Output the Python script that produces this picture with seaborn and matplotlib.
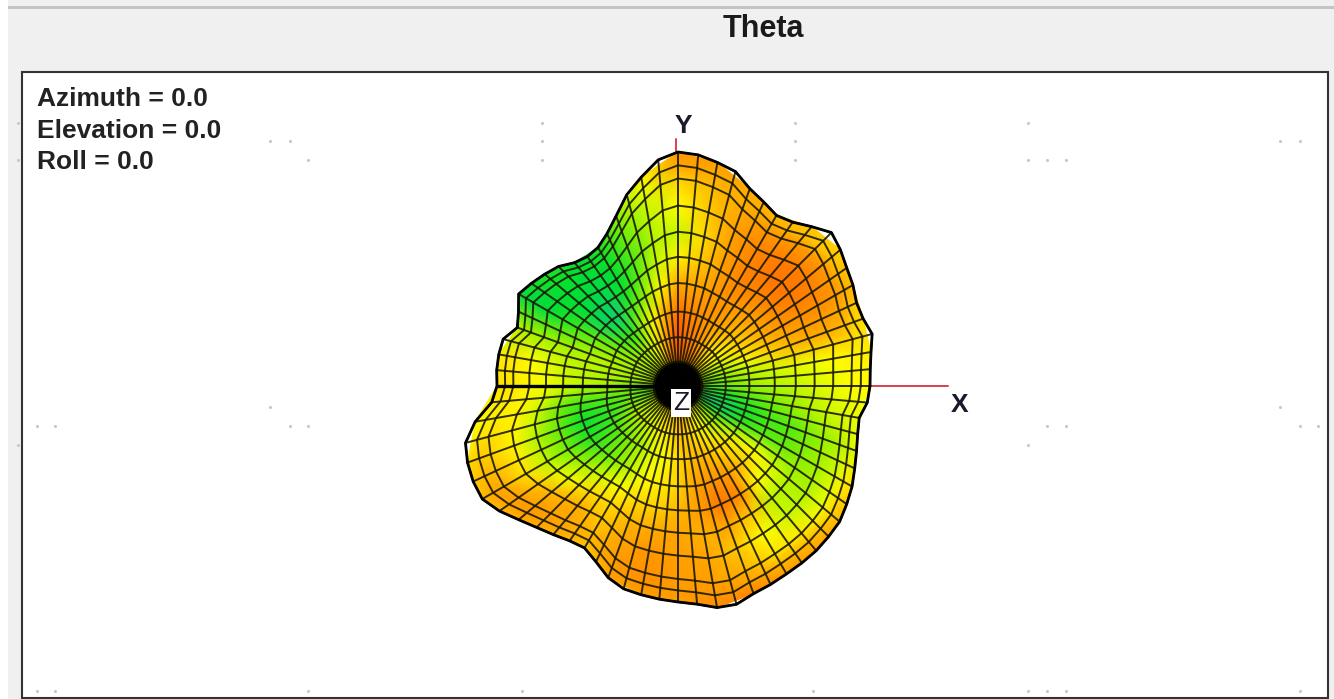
import numpy as np
import pandas as pd
import matplotlib
matplotlib.use("Agg")
import matplotlib.pyplot as plt
from matplotlib.patches import Rectangle
import seaborn as sns

sns.set_theme(style="white")
plt.rcParams['font.family'] = ['Liberation Sans', 'DejaVu Sans']

# outline radius of the pattern, every 5 degrees counter clockwise from +X
outline = [192, 193, 196, 201, 197, 197, 202, 206, 212, 217, 208, 200,
           197, 203, 210, 222, 227, 232, 234, 227, 212, 198, 181, 168,
           160, 158, 161, 169, 174, 179, 184, 176, 171, 181, 182, 182,
           181, 187, 206, 220, 224, 226, 226, 218, 208, 200, 194, 189,
           187, 194, 204, 210, 212, 214, 216, 219, 225, 226, 221, 219,
           217, 216, 215, 213, 211, 206, 201, 195, 190, 186, 184, 190]

# rings of the wire mesh, centre to edge
ring_frac = [0, .06, .12, .24, .36, .49, .60, .70, .80, .90, .95, 1]
ring_follow = [0, 0, .05, .1, .2, .3, .45, .6, .75, .9, .95, 1]

# colour level of each spoke (every 10 degrees), one value per ring
levels = [
    [25, 25, 22, 28, 34, 38, 41, 44, 47, 50, 50, 50],
    [25, 25, 25, 32, 38, 43, 46, 48, 50, 52, 52, 54],
    [35, 35, 32, 38, 48, 60, 66, 70, 70, 66, 60, 58],
    [50, 50, 42, 46, 58, 70, 78, 82, 82, 78, 70, 65],
    [66, 66, 56, 50, 62, 74, 84, 88, 86, 76, 62, 60],
    [76, 76, 66, 58, 68, 76, 84, 88, 86, 76, 64, 62],
    [85, 85, 80, 72, 76, 80, 84, 84, 84, 78, 70, 66],
    [90, 90, 88, 84, 80, 76, 74, 74, 74, 70, 68, 70],
    [92, 92, 92, 90, 84, 72, 62, 58, 62, 65, 70, 74],
    [95, 95, 97, 98, 90, 70, 52, 42, 50, 60, 72, 78],
    [92, 92, 90, 85, 72, 52, 42, 38, 40, 44, 48, 52],
    [80, 80, 75, 62, 52, 35, 28, 26, 28, 30, 32, 34],
    [55, 55, 52, 46, 38, 24, 18, 16, 17, 18, 19, 20],
    [45, 45, 45, 38, 22, 8, 10, 13, 15, 16, 17, 18],
    [40, 40, 40, 34, 24, 10, 14, 16, 17, 18, 19, 20],
    [38, 38, 38, 36, 32, 28, 24, 20, 16, 14, 15, 16],
    [35, 35, 36, 36, 38, 38, 36, 36, 36, 36, 38, 40],
    [32, 32, 34, 36, 38, 40, 42, 46, 50, 54, 54, 54],
    [22, 22, 24, 30, 36, 40, 44, 48, 52, 55, 56, 56],
    [25, 25, 25, 28, 26, 24, 30, 42, 52, 54, 52, 50],
    [36, 36, 32, 30, 22, 18, 28, 38, 52, 60, 62, 58],
    [42, 42, 38, 36, 24, 20, 30, 40, 56, 70, 72, 65],
    [48, 48, 42, 40, 28, 26, 36, 48, 66, 76, 76, 68],
    [52, 52, 46, 42, 32, 32, 44, 58, 70, 72, 72, 68],
    [58, 58, 50, 46, 38, 40, 50, 58, 62, 66, 66, 62],
    [65, 65, 58, 52, 46, 50, 58, 66, 72, 76, 76, 72],
    [72, 72, 62, 56, 50, 54, 60, 70, 78, 80, 80, 74],
    [78, 78, 70, 64, 58, 60, 66, 72, 74, 75, 76, 74],
    [74, 74, 68, 62, 66, 74, 76, 68, 72, 74, 78, 82],
    [65, 65, 58, 54, 66, 80, 88, 72, 62, 68, 74, 84],
    [55, 55, 50, 48, 60, 76, 82, 62, 50, 56, 66, 76],
    [45, 45, 42, 40, 56, 62, 50, 40, 42, 54, 66, 74],
    [35, 35, 32, 30, 42, 50, 44, 38, 38, 48, 60, 68],
    [20, 20, 14, 12, 22, 28, 28, 32, 36, 44, 52, 58],
    [10, 10, 4, 8, 18, 24, 26, 30, 34, 38, 42, 46],
    [18, 18, 12, 18, 24, 30, 34, 38, 42, 44, 46, 48],
]

# faint grey specks left on the window
speck_x = [18, 18, 270, 290, 308, 542, 542, 542, 795, 795, 795, 1028, 1028, 1047, 1066,
           1280, 1300, 270, 290, 308, 18, 37, 55, 1028, 1047, 1066, 1280, 1300, 1318,
           37, 55, 308, 522, 813, 1028, 1047, 1066, 1300]
speck_y = [123, 160, 141, 141, 160, 123, 141, 160, 123, 141, 160, 123, 160, 160, 160,
           141, 141, 407, 426, 426, 445, 426, 426, 445, 426, 426, 407, 426, 426,
           691, 691, 691, 691, 691, 691, 691, 691, 691]

view_labels = ["Azimuth = 0.0", "Elevation = 0.0", "Roll = 0.0"]

cx, cy = 678, 386
cmap = sns.blend_palette(["#18c8a8", "#00e030", "#90f000", "#ffff00", "#ffb400", "#ff8800", "#ff4c00"],
                         as_cmap=True)

# polar mesh -> picture coordinates
az = np.deg2rad(np.arange(0, 365, 5))
edge = np.array(outline + outline[:1], dtype=float)
frac = np.array(ring_frac)
follow = np.array(ring_follow)
rad = frac[None, :] * (200 + follow[None, :] * (edge[:, None] - 200))
mx = cx + rad * np.cos(az)[:, None]
my = cy - rad * np.sin(az)[:, None]

lev = np.array(levels + levels[:1], dtype=float)

fig = plt.figure(figsize=(13.34, 6.99), dpi=100, facecolor="#f0f0f0")
ax = fig.add_axes([0, 0, 1, 1])
ax.set_xlim(0, 1334)
ax.set_ylim(699, 0)
ax.axis("off")

# window frame
ax.add_patch(Rectangle((0, 0), 8, 699, fc="white", ec="none", zorder=0))
ax.add_patch(Rectangle((8, 6), 1326, 2.5, fc="#c4c4c4", ec="none", zorder=0))
ax.add_patch(Rectangle((22, 72), 1306, 626, fc="white", ec="#333333", lw=1.5, zorder=1))
ax.text(763, 29, "Theta", ha="center", va="center", fontsize=22, fontweight="bold", color="#1a1a1a")

for lab, ypos in zip(view_labels, [99, 131, 162]):
    ax.text(37, ypos, lab, ha="left", va="center", fontsize=19, fontweight="bold", color="#222222")

specks = pd.DataFrame({"x": speck_x, "y": speck_y})
sns.scatterplot(data=specks, x="x", y="y", color="#c8c8c8", s=5, linewidth=0, ax=ax, zorder=2)

# axis stubs
x_axis = pd.DataFrame({"x": [cx, 948], "y": [cy, cy]})
y_axis = pd.DataFrame({"x": [676, 676], "y": [cy, 139]})
sns.lineplot(data=x_axis, x="x", y="y", color="#d8404c", lw=1.4, ax=ax, zorder=2, estimator=None, sort=False)
sns.lineplot(data=y_axis, x="x", y="y", color="#d8404c", lw=1.4, ax=ax, zorder=2, estimator=None, sort=False)

# surface, colours on every second spoke
ax.pcolormesh(mx[::2], my[::2], lev, cmap=cmap, vmin=0, vmax=100, shading="gouraud", zorder=3)

# wire mesh, spokes pile up to a black star in the middle
for i in range(mx.shape[0] - 1):
    ax.plot(mx[i], my[i], color="#1c1a00", lw=1.4, alpha=0.9, zorder=4)
    ax.plot(mx[i, :3], my[i, :3], color="black", lw=1.9, zorder=4)
for j in range(2, mx.shape[1]):
    ax.plot(mx[:, j], my[:, j], color="#1c1a00", lw=1.4, alpha=0.9, zorder=4)
ax.plot(mx[:, -1], my[:, -1], color="black", lw=2.0, zorder=5)
ax.plot([mx[36, -1], cx], [my[36, -1], cy], color="black", lw=2.4, zorder=5)

# axis names
ax.text(683, 126, "Y", ha="center", va="center", fontsize=19, fontweight="bold", color="#1a1a2a", zorder=6)
ax.text(960, 405, "X", ha="center", va="center", fontsize=19, fontweight="bold", color="#1a1a2a", zorder=6)
ax.text(681, 403, "Z", ha="center", va="center", fontsize=19, color="#1a1a2a", zorder=6,
        bbox=dict(fc="white", ec="none", pad=1.5))

ax.set_xlabel("")
ax.set_ylabel("")
fig.savefig("out.png", dpi=100, facecolor=fig.get_facecolor())
